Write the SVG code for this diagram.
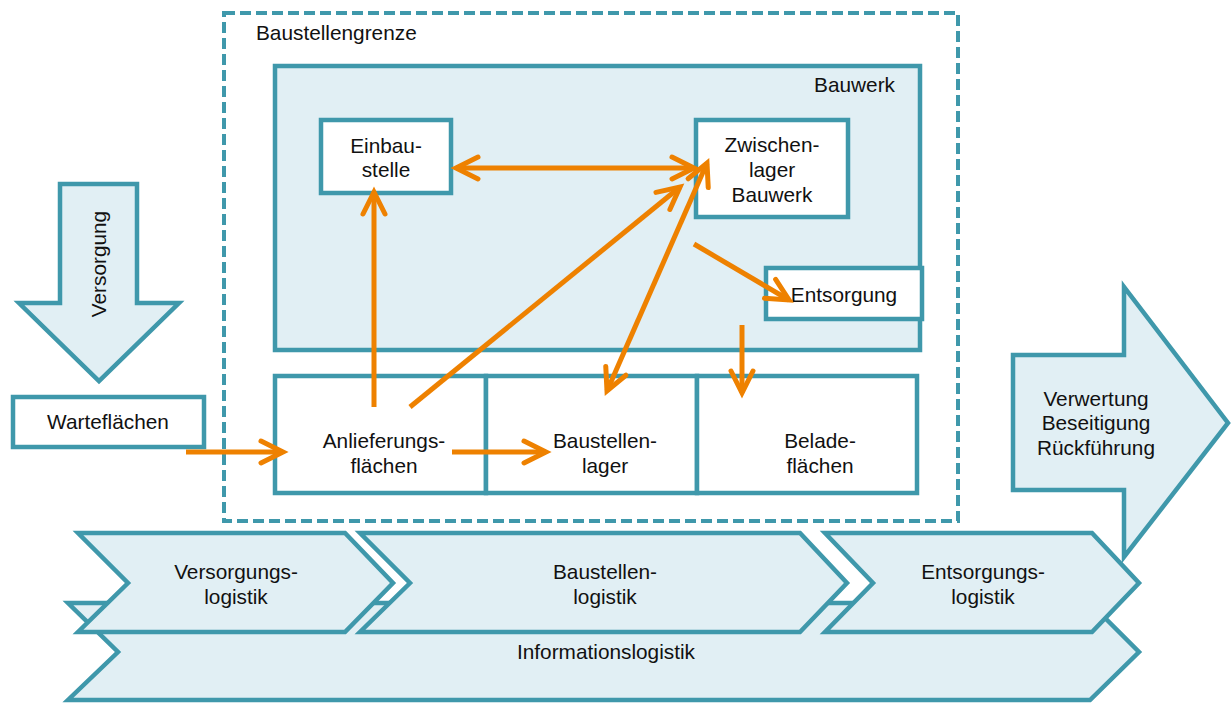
<svg xmlns="http://www.w3.org/2000/svg" width="1231" height="704" viewBox="0 0 1231 704">
<defs>
<style>
.box{fill:#ffffff;stroke:#3f98ab;stroke-width:4.5}
.lt{fill:#e1eff4;stroke:#3f98ab;stroke-width:4.5;stroke-linejoin:miter}
.dash{fill:none;stroke:#3f98ab;stroke-width:4;stroke-dasharray:11 5}
.t{font-family:"Liberation Sans",Arial,sans-serif;font-size:20.8px;fill:#111}
.c{text-anchor:middle}
.ar{fill:none;stroke:#ee8100;stroke-width:5;marker-end:url(#ah)}
.ar2{fill:none;stroke:#ee8100;stroke-width:5;marker-end:url(#ah);marker-start:url(#ah)}
</style>
<marker id="ah" markerUnits="userSpaceOnUse" orient="auto-start-reverse" refX="0" refY="0" markerWidth="40" markerHeight="40" viewBox="-30 -20 40 40" overflow="visible">
<path d="M-22,-11 L0,0 L-22,11" fill="none" stroke="#ee8100" stroke-width="5" stroke-linecap="round" stroke-linejoin="miter"/>
</marker>
</defs>
<rect width="1231" height="704" fill="#ffffff"/>

<g id="baustellengrenze">
<rect class="dash" x="224" y="13" width="734" height="508"/>
<text class="t" x="256" y="40">Baustellengrenze</text>
</g>

<g id="bauwerk">
<rect class="lt" x="275" y="66" width="645" height="284"/>
<text class="t" x="895" y="92" text-anchor="end">Bauwerk</text>
</g>

<g id="einbaustelle">
<rect class="box" x="321" y="120" width="130" height="73"/>
<text class="t c" x="386" y="153">Einbau-</text>
<text class="t c" x="386" y="177">stelle</text>
</g>

<g id="zwischenlager">
<rect class="box" x="696" y="120" width="152" height="97"/>
<text class="t c" x="772" y="152">Zwischen-</text>
<text class="t c" x="772" y="177">lager</text>
<text class="t c" x="772" y="202">Bauwerk</text>
</g>

<g id="entsorgung">
<rect class="box" x="766" y="268" width="156" height="51"/>
<text class="t c" x="844" y="302">Entsorgung</text>
</g>

<g id="anlieferungsflaechen">
<rect class="box" x="275" y="376" width="211" height="117"/>
<text class="t c" x="384" y="448">Anlieferungs-</text>
<text class="t c" x="384" y="473">flächen</text>
</g>
<g id="baustellenlager">
<rect class="box" x="486" y="376" width="211" height="117"/>
<text class="t c" x="605" y="448">Baustellen-</text>
<text class="t c" x="605" y="473">lager</text>
</g>
<g id="beladeflaechen">
<rect class="box" x="697" y="376" width="220" height="117"/>
<text class="t c" x="820" y="448">Belade-</text>
<text class="t c" x="820" y="473">flächen</text>
</g>

<g id="wartflaechen">
<rect class="box" x="13" y="397" width="191" height="50"/>
<text class="t c" x="108" y="429">Warteflächen</text>
</g>

<g id="versorgung">
<path class="lt" d="M60,184 L137,184 L137,303 L179,303 L99,381 L19,303 L60,303 Z"/>
<text class="t c" transform="translate(99,264) rotate(-90)" x="0" y="7">Versorgung</text>
</g>

<g id="verwertung">
<path class="lt" d="M1013,355 L1124,355 L1124,287 L1228,423 L1124,557 L1124,490 L1013,490 Z"/>
<text class="t c" x="1096" y="406">Verwertung</text>
<text class="t c" x="1096" y="430">Beseitigung</text>
<text class="t c" x="1096" y="455">Rückführung</text>
</g>

<g id="informationslogistik">
<path class="lt" d="M68,603 L1090,603 L1139,652 L1090,700 L68,700 L118,652 Z"/>
<text class="t c" x="606" y="659">Informationslogistik</text>
</g>
<g id="versorgungslogistik">
<path class="lt" d="M78,533 L345,533 L393,583 L345,632 L78,632 L128,583 Z"/>
<text class="t c" x="236" y="579">Versorgungs-</text>
<text class="t c" x="236" y="604">logistik</text>
</g>
<g id="baustellenlogistik">
<path class="lt" d="M360,533 L800,533 L847,583 L800,632 L360,632 L410,583 Z"/>
<text class="t c" x="605" y="579">Baustellen-</text>
<text class="t c" x="605" y="604">logistik</text>
</g>
<g id="entsorgungslogistik">
<path class="lt" d="M825,533 L1092,533 L1139,583 L1092,632 L825,632 L873,583 Z"/>
<text class="t c" x="983" y="579">Entsorgungs-</text>
<text class="t c" x="983" y="604">logistik</text>
</g>

<g id="connectors">
<line class="ar" x1="186" y1="452" x2="283" y2="452"/>
<line class="ar" x1="452" y1="452" x2="546" y2="452"/>
<line class="ar" x1="374" y1="407" x2="374" y2="192"/>
<line class="ar2" x1="456" y1="168" x2="694" y2="168"/>
<line class="ar" x1="410" y1="407" x2="680" y2="187"/>
<line class="ar2" x1="707" y1="163" x2="607" y2="391"/>
<line class="ar" x1="694" y1="244" x2="789" y2="300"/>
<line class="ar" x1="742" y1="325" x2="742" y2="393"/>
</g>
</svg>
